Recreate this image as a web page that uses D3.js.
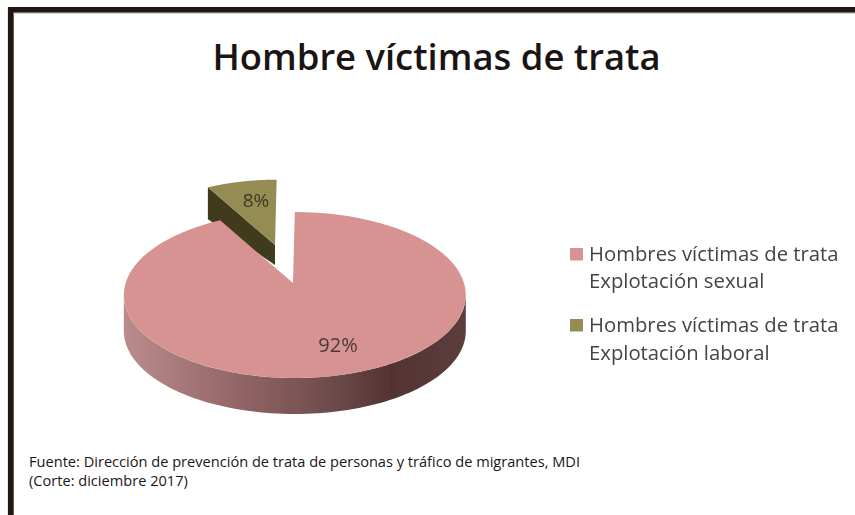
<!DOCTYPE html>
<html><head><meta charset="utf-8">
<script src="https://cdn.jsdelivr.net/npm/d3@7"></script>
<style>html,body{margin:0;background:#fff}svg{display:block}text{font-family:"Open Sans",sans-serif}</style>
</head><body><svg id="c" width="855" height="515"></svg>
<script>
const categories = ["Hombres víctimas de trata|Explotación sexual","Hombres víctimas de trata|Explotación laboral"];
const values = [92, 8];
const labels = ["92%","8%"];
const colors = ["#d69391","#958c52"];
const titleText = "Hombre víctimas de trata";
const sourceLines = ["Fuente: Dirección de prevención de trata de personas y tráfico de migrantes, MDI","(Corte: diciembre 2017)"];

const svg = d3.select("#c");
const defs = svg.append("defs");
const g = defs.append("linearGradient").attr("id","side").attr("x1",0).attr("x2",1).attr("y1",0).attr("y2",0);
[[0,"#bb8c8c"],[.3,"#97696a"],[.6,"#6f4c4c"],[.78,"#533333"],[1,"#5c3d3d"]].forEach(s=>g.append("stop").attr("offset",s[0]).attr("stop-color",s[1]));
defs.append("filter").attr("id","soft").append("feGaussianBlur").attr("stdDeviation",0.45);

// frame
svg.append("path").attr("d","M10.8,515V9.8H855").attr("fill","none").attr("stroke","#211611").attr("stroke-width",5.8);
svg.append("line").attr("x1",13.5).attr("x2",855).attr("y1",13.4).attr("y2",13.4).attr("stroke","#d4d2d2").attr("stroke-width",1.2);

const root = svg.append("g").attr("filter","url(#soft)");

// pie
const cx=294.8, cy=295, rx=171, ry=83, depth=36, apex=[293,283];
const arcs = d3.pie().sort(null).startAngle(0).endAngle(2*Math.PI)(values);
const main=arcs[0], small=arcs[1];
// perspective foreshortening: pie angle to ellipse parameter
const param = d3.scaleLinear().domain([0,main.endAngle,2*Math.PI]).range([0,2*Math.PI-(2*Math.PI-main.endAngle)*0.9,2*Math.PI]);
const pt = a => {const t=param(a);return [cx+rx*Math.sin(t),cy-ry*Math.cos(t)];};
const line=d3.line();
function rim(a0,a1,tx=d=>d){
  return d3.range(0,91).map(i=>tx(pt(a0+(a1-a0)*i/90)));
}
const invT = t => param.invert(t);

// main side wall (visible lower half of the rim)
const wallTop=rim(invT(Math.PI/2),invT(3*Math.PI/2)), wallBot=wallTop.map(p=>[p[0],p[1]+depth]).reverse();
root.append("path").attr("d",line(wallTop.concat(wallBot))+"Z").attr("fill","url(#side)");

// exploded slice
const eApex=[275,245], k=0.92, eDepth=20;
const ex=p=>[eApex[0]+(p[0]-apex[0])*k, eApex[1]+(p[1]-apex[1])*k];
const sRim=rim(small.startAngle,small.endAngle,ex);
const corner=sRim[0];
root.append("path").attr("d",line([corner,[corner[0],corner[1]+32],[eApex[0],eApex[1]+eDepth],eApex])+"Z").attr("fill","#3f3a1e");
root.append("path").attr("d",line([eApex].concat(sRim))+"Z").attr("fill",colors[1]);

// main top
root.append("path").attr("d",line([apex].concat(rim(main.startAngle,main.endAngle)))+"Z").attr("fill",colors[0]);

// data labels
root.append("text").attr("x",338).attr("y",352).attr("text-anchor","middle").attr("font-size",20).attr("fill","#4a3a3a").text(labels[0]);
root.append("text").attr("x",256).attr("y",207).attr("text-anchor","middle").attr("font-size",19).attr("fill","#3f3a22").text(labels[1]);

// title
svg.append("text").attr("x",436.5).attr("y",70).attr("text-anchor","middle").attr("font-size",36.4).attr("font-weight",600).attr("fill","#1a1414").text(titleText);

// legend
const ly=[248,319], lb=[[261,288],[332,360]];
categories.forEach((c,i)=>{
  root.append("rect").attr("x",570).attr("y",ly[i]).attr("width",13).attr("height",12.5).attr("fill",colors[i]);
  c.split("|").forEach((t,j)=>root.append("text").attr("x",589).attr("y",lb[i][j]).attr("font-size",20.3).attr("fill","#484243").text(t));
});

// source
sourceLines.forEach((t,i)=>svg.append("text").attr("x",29).attr("y",[467,486][i]).attr("font-size",14.6).attr("fill","#1c1616").text(t));
</script></body></html>
